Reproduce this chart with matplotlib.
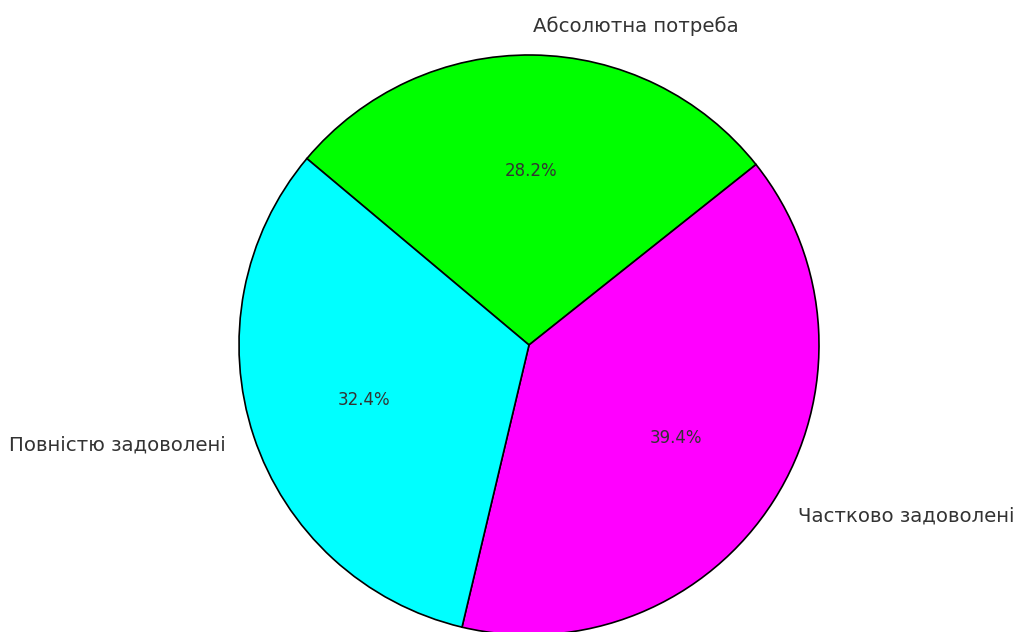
import matplotlib
matplotlib.use('Agg')
import matplotlib.pyplot as plt

labels = ['Абсолютна потреба', 'Частково задоволені', 'Повністю задоволені']
shares = [28.2, 39.4, 32.4]
colors = ['#00ff00', '#ff00ff', '#00ffff']

W, H = 1017, 632
fig = plt.figure(figsize=(W / 100, H / 100), dpi=100)

# pie radius and center in pixels
r, cx, cy = 290, 529, 287
ax = fig.add_axes([(cx - r) / W, (cy - r) / H, 2 * r / W, 2 * r / H])

wedges, texts, autotexts = ax.pie(
    shares, labels=labels, colors=colors, autopct='%1.1f%%',
    startangle=140, counterclock=False,
    wedgeprops={'edgecolor': 'black', 'linewidth': 1.2},
    textprops={'color': '#333333', 'fontsize': 14.2},
)
for t in autotexts:
    t.set_fontsize(12)

ax.set_xlim(-1, 1)
ax.set_ylim(-1, 1)
ax.set_aspect('equal')
ax.axis('off')

fig.savefig('out.png', dpi=100)
